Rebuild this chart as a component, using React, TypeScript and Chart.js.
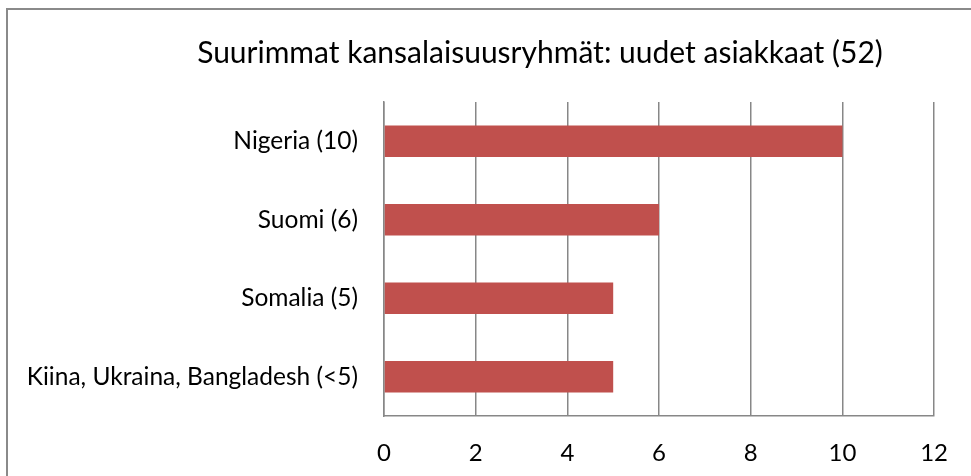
import React, { useEffect, useRef } from "react";
import { Chart, registerables } from "chart.js";

Chart.register(...registerables);

const TITLE = "Suurimmat kansalaisuusryhmät: uudet asiakkaat (52)";
const categories = [
  "Nigeria (10)",
  "Suomi (6)",
  "Somalia (5)",
  "Kiina, Ukraina, Bangladesh (<5)",
];
const values = [10, 6, 5, 5];
const xTicks = [0, 2, 4, 6, 8, 10, 12];

const FONT = "Lato";
const GRID = "#878787";
const BAR = "#C0504D";

const frame = {
  id: "frame",
  beforeDraw(chart: any) {
    const ctx = chart.ctx;
    ctx.save();
    ctx.fillStyle = "#ffffff";
    ctx.fillRect(0, 0, chart.width, chart.height);
    ctx.fillStyle = "#8a8a8a";
    ctx.fillRect(6, 8, chart.width - 6, 2);
    ctx.fillRect(6, 8, 2, chart.height - 8);
    ctx.restore();
  },
  afterDraw(chart: any) {
    const ctx = chart.ctx;
    ctx.save();
    ctx.fillStyle = "#000000";
    ctx.font = `30px ${FONT}`;
    ctx.textAlign = "center";
    ctx.textBaseline = "middle";
    ctx.fillText(TITLE, 540, 53);
    ctx.restore();
  },
};

export default function App() {
  const ref = useRef<HTMLCanvasElement | null>(null);
  useEffect(() => {
    document.body.style.margin = "0";
    const chart = new Chart(ref.current as HTMLCanvasElement, {
      type: "bar",
      data: {
        labels: categories,
        datasets: [
          {
            data: values,
            backgroundColor: BAR,
            categoryPercentage: 1,
            barPercentage: 0.4,
          },
        ],
      },
      plugins: [frame],
      options: {
        indexAxis: "y",
        animation: false,
        responsive: false,
        devicePixelRatio: 1,
        layout: { padding: { top: 102, left: 0, right: 36, bottom: 0 } },
        plugins: { legend: { display: false }, tooltip: { enabled: false }, title: { display: false } },
        scales: {
          x: {
            min: 0,
            max: 12,
            afterBuildTicks: (s: any) => {
              s.ticks = xTicks.map((v) => ({ value: v }));
            },
            afterFit: (s: any) => {
              s.height = 60;
            },
            grid: { color: GRID, lineWidth: 1.5, drawTicks: false },
            border: { color: GRID, width: 1.5 },
            ticks: { color: "#000", font: { family: FONT, size: 24 }, padding: 23, maxRotation: 0 },
          },
          y: {
            afterFit: (s: any) => {
              s.width = 384;
            },
            grid: { display: false, drawTicks: false },
            border: { color: GRID, width: 1.5 },
            ticks: { color: "#000", font: { family: FONT, size: 24.5 }, padding: 26 },
          },
        },
      },
    });
    return () => chart.destroy();
  }, []);
  return <canvas ref={ref} width={971} height={476} style={{ display: "block" }} />;
}
